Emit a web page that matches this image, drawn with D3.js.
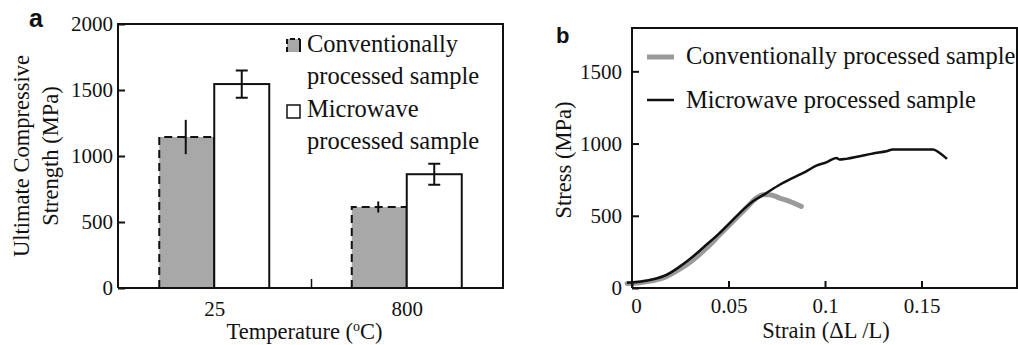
<!DOCTYPE html>
<html>
<head>
<meta charset="utf-8">
<script src="https://cdn.jsdelivr.net/npm/d3@7"></script>
<style>
  body { margin: 0; background: #fff; }
  svg { display: block; }
  text { font-family: "Liberation Serif", "Times New Roman", serif; fill: #111; }
</style>
</head>
<body>
<div id="chart"></div>
<script>
// Panel a data ---------------------------------------------
var temperatures = ["25", "800"];
var seriesNames = ["Conventionally processed sample", "Microwave processed sample"];
var convStrength = [1144, 614];
var convError = [130, 42];
var microStrength = [1545, 862];
var microError = [103, 80];
var strengthTicks = [0, 500, 1000, 1500, 2000];

// Panel b data ----------------------------------------------
var convStrain = [-0.0026, 0.004, 0.011, 0.0178, 0.0247, 0.0316, 0.0385, 0.0454, 0.0523, 0.0592, 0.0644, 0.0679, 0.0713, 0.0765, 0.0817, 0.0877];
var convStress = [32, 37, 51, 79, 130, 194, 275, 368, 461, 553, 623, 646, 646, 623, 600, 565];
var microStrain = [-0.0026, 0.004, 0.011, 0.0178, 0.0247, 0.0316, 0.0385, 0.0454, 0.0506, 0.0558, 0.0627, 0.0696, 0.0765, 0.0834, 0.0903, 0.0955, 0.1007, 0.1059, 0.1076, 0.111, 0.118, 0.1249, 0.1318, 0.1352, 0.1421, 0.1508, 0.156, 0.1594, 0.1632];
var microStress = [37, 44, 60, 90, 148, 218, 299, 380, 449, 519, 600, 657, 715, 762, 808, 847, 870, 900, 889, 894, 912, 931, 947, 958, 958, 958, 958, 935, 894];
var strainTicks = [0, 0.05, 0.1, 0.15];
var stressTicks = [0, 500, 1000, 1500];

var greyFill = "#a8a8a8";

var svg = d3.select("#chart").append("svg")
    .attr("width", 1018)
    .attr("height", 345);

// ---------------- Panel a ----------------
var ma = { left: 118, top: 24, right: 503, bottom: 288 };

var ya = d3.scaleLinear().domain([0, 2000]).range([ma.bottom, ma.top]);
var xa = d3.scalePoint().domain(temperatures).range([ma.left, ma.right]).padding(0.5);
var xs = d3.scaleBand().domain([0, 1]).range([-55, 55]).padding(0);

var ga = svg.append("g");

// bars
temperatures.forEach(function (t, i) {
    var cx = xa(t);
    // conventional (grey, dashed top and left)
    var x0 = cx + xs(0), x1 = cx + xs(0) + xs.bandwidth();
    var yt = ya(convStrength[i]);
    ga.append("rect")
        .attr("x", x0).attr("y", yt)
        .attr("width", xs.bandwidth()).attr("height", ma.bottom - yt)
        .attr("fill", greyFill);
    ga.append("path")
        .attr("d", "M" + x0 + "," + ma.bottom + "V" + yt + "H" + x1)
        .attr("fill", "none").attr("stroke", "#111")
        .attr("stroke-width", 2).attr("stroke-dasharray", "8,5");
    ga.append("line")
        .attr("x1", x1).attr("x2", x1).attr("y1", yt).attr("y2", ma.bottom)
        .attr("stroke", "#111").attr("stroke-width", 2);
    // error line without caps
    var ex = (x0 + x1) / 2 - 1;
    ga.append("line")
        .attr("x1", ex).attr("x2", ex)
        .attr("y1", ya(convStrength[i] + convError[i]))
        .attr("y2", ya(convStrength[i] - convError[i]))
        .attr("stroke", "#111").attr("stroke-width", 2);

    // microwave (white)
    var w0 = cx + xs(1);
    var yw = ya(microStrength[i]);
    ga.append("rect")
        .attr("x", w0).attr("y", yw)
        .attr("width", xs.bandwidth()).attr("height", ma.bottom - yw)
        .attr("fill", "#fff").attr("stroke", "#111").attr("stroke-width", 2);
    var wx = w0 + xs.bandwidth() / 2;
    var eTop = ya(microStrength[i] + microError[i]);
    var eBot = ya(microStrength[i] - microError[i]);
    ga.append("path")
        .attr("d", "M" + wx + "," + eTop + "V" + eBot +
            "M" + (wx - 6) + "," + eTop + "H" + (wx + 6) +
            "M" + (wx - 6) + "," + eBot + "H" + (wx + 6))
        .attr("fill", "none").attr("stroke", "#111").attr("stroke-width", 2);
});

// frame
ga.append("path")
    .attr("d", "M" + ma.left + "," + ma.bottom + "V" + ma.top + "H" + ma.right + "V" + ma.bottom + "H" + ma.left)
    .attr("fill", "none").attr("stroke", "#111").attr("stroke-width", 2);

// y axis (inward ticks)
ga.append("g")
    .attr("transform", "translate(" + ma.left + ",0)")
    .call(d3.axisLeft(ya).tickValues(strengthTicks).tickFormat(d3.format("d"))
        .tickSizeInner(-7).tickSizeOuter(0).tickPadding(5))
    .call(function (g) {
        g.select(".domain").remove();
        g.selectAll("line").attr("stroke", "#111").attr("stroke-width", 2);
        g.selectAll("text").style("font-size", "21px")
            .style("font-family", "Liberation Serif, serif").attr("fill", "#111");
    });

// x tick labels (no ticks) + middle divider tick
ga.append("g")
    .attr("transform", "translate(0," + ma.bottom + ")")
    .call(d3.axisBottom(xa).tickSize(0).tickPadding(13))
    .call(function (g) {
        g.select(".domain").remove();
        g.selectAll("text").style("font-size", "21px")
            .style("font-family", "Liberation Serif, serif").attr("fill", "#111");
    });
var mid = (xa(temperatures[0]) + xa(temperatures[1])) / 2 + 1;
ga.append("line")
    .attr("x1", mid).attr("x2", mid).attr("y1", ma.bottom - 9).attr("y2", ma.bottom)
    .attr("stroke", "#111").attr("stroke-width", 1.5);

// axis titles
ga.append("text")
    .attr("transform", "translate(" + ((ma.left + ma.right) / 2 - 6) + ",339)")
    .attr("text-anchor", "middle")
    .style("font-size", "22.5px")
    .call(function (t) {
        t.append("tspan").text("Temperature (");
        t.append("tspan").attr("dy", "-8").style("font-size", "14px").text("o");
        t.append("tspan").attr("dy", "8").text("C)");
    });

var yTitle = ga.append("text")
    .attr("transform", "translate(29," + ((ma.top + ma.bottom) / 2) + ") rotate(-90)")
    .attr("text-anchor", "middle")
    .style("font-size", "22.5px");
yTitle.append("tspan").attr("x", 0).attr("y", 0).text("Ultimate Compressive");
yTitle.append("tspan").attr("x", 0).attr("y", 29).text("Strength (MPa)");

// legend a
var la = ga.append("g");
la.append("rect")
    .attr("x", 287).attr("y", 39).attr("width", 13).attr("height", 13)
    .attr("fill", greyFill);
la.append("path")
    .attr("d", "M287,52V39H300")
    .attr("fill", "none").attr("stroke", "#111").attr("stroke-width", 2)
    .attr("stroke-dasharray", "5,3");
la.append("line").attr("x1", 300).attr("x2", 300).attr("y1", 39).attr("y2", 52)
    .attr("stroke", "#111").attr("stroke-width", 2);
la.append("rect")
    .attr("x", 287).attr("y", 105).attr("width", 13).attr("height", 13)
    .attr("fill", "#fff").attr("stroke", "#111").attr("stroke-width", 1.5);
var legendLinesA = [["Conventionally", 52], ["processed sample", 84], ["Microwave", 117], ["processed sample", 149]];
legendLinesA.forEach(function (d) {
    la.append("text").attr("x", 307).attr("y", d[1])
        .style("font-size", "24.5px").text(d[0]);
});

ga.append("text")
    .attr("x", 29).attr("y", 27)
    .style("font-family", "Liberation Sans, Arial, sans-serif")
    .style("font-weight", "bold").style("font-size", "25px")
    .text("a");

// ---------------- Panel b ----------------
var mb = { left: 632, top: 28, right: 1018, bottom: 288 };
var xb = d3.scaleLinear().domain([0, 0.2]).range([mb.left, mb.right]);
var yb = d3.scaleLinear().domain([0, 1800]).range([mb.bottom, mb.top]);

var gb = svg.append("g");

var line = d3.line()
    .x(function (d) { return xb(d[0]); })
    .y(function (d) { return yb(d[1]); })
    .curve(d3.curveMonotoneX);

var convData = d3.zip(convStrain, convStress);
var microData = d3.zip(microStrain, microStress);

gb.append("path")
    .datum(convData)
    .attr("d", line)
    .attr("fill", "none").attr("stroke", "#9a9a9a")
    .attr("stroke-width", 5).attr("stroke-linecap", "round");
gb.append("path")
    .datum(microData)
    .attr("d", line)
    .attr("fill", "none").attr("stroke", "#111")
    .attr("stroke-width", 2.5);

// frame
gb.append("path")
    .attr("d", "M" + mb.left + "," + mb.bottom + "V" + mb.top + "H" + (mb.right - 1) + "V" + mb.bottom + "H" + mb.left)
    .attr("fill", "none").attr("stroke", "#111").attr("stroke-width", 2);

gb.append("g")
    .attr("transform", "translate(" + mb.left + ",0)")
    .call(d3.axisLeft(yb).tickValues(stressTicks).tickFormat(d3.format("d"))
        .tickSizeInner(-7).tickSizeOuter(0).tickPadding(10))
    .call(function (g) {
        g.select(".domain").remove();
        g.selectAll("line").attr("stroke", "#111").attr("stroke-width", 2);
        g.selectAll("text").style("font-size", "21px")
            .style("font-family", "Liberation Serif, serif").attr("fill", "#111");
    });

gb.append("g")
    .attr("transform", "translate(0," + mb.bottom + ")")
    .call(d3.axisBottom(xb).tickValues(strainTicks).tickFormat(d3.format("")).tickSizeInner(-7).tickSizeOuter(0).tickPadding(10))
    .call(function (g) {
        g.select(".domain").remove();
        g.selectAll("line").attr("stroke", "#111").attr("stroke-width", 2);
        g.selectAll("text").style("font-size", "21px")
            .style("font-family", "Liberation Serif, serif").attr("fill", "#111");
        g.selectAll(".tick").filter(function (d) { return d === 0; })
            .select("text").attr("dx", 4);
    });

gb.append("text")
    .attr("x", (mb.left + mb.right) / 2 + 1).attr("y", 338)
    .attr("text-anchor", "middle")
    .style("font-size", "22.5px")
    .text("Strain (ΔL /L)");

gb.append("text")
    .attr("transform", "translate(571," + ((mb.top + mb.bottom) / 2 + 2) + ") rotate(-90)")
    .attr("text-anchor", "middle")
    .style("font-size", "22.5px")
    .text("Stress (MPa)");

// legend b
var legendB = [
    { name: seriesNames[0], y: 57, color: "#9a9a9a", width: 5, base: 64 },
    { name: seriesNames[1], y: 100, color: "#111", width: 2.5, base: 108 }
];
legendB.forEach(function (d) {
    gb.append("line")
        .attr("x1", 647).attr("x2", 674).attr("y1", d.y).attr("y2", d.y)
        .attr("stroke", d.color).attr("stroke-width", d.width);
    gb.append("text").attr("x", 686).attr("y", d.base)
        .style("font-size", "24.5px").text(d.name);
});

gb.append("text")
    .attr("x", 556).attr("y", 43)
    .style("font-family", "Liberation Sans, Arial, sans-serif")
    .style("font-weight", "bold").style("font-size", "22px")
    .text("b");
</script>
</body>
</html>
